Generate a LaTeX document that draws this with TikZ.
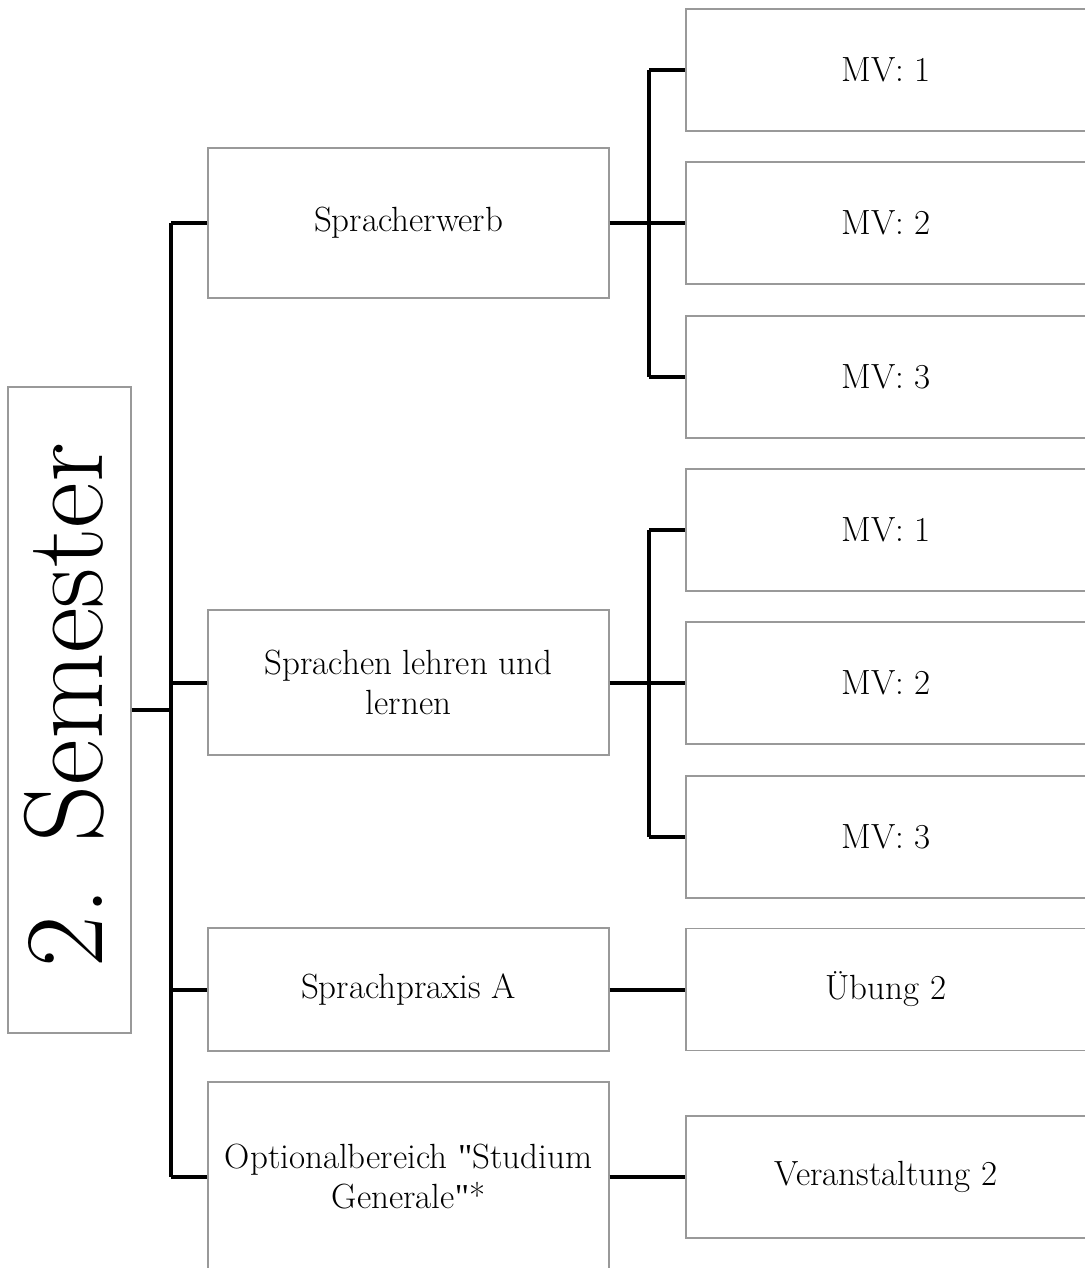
\documentclass[tikz,border=0pt]{standalone}
\usepackage{fontspec}
\newfontfamily\qfont{Liberation Serif}
\begin{document}
\begin{tikzpicture}[x=1pt,y=-1pt,
  box/.style={draw=black!40, line width=1.3pt, fill=white, inner sep=0pt, align=center,
    font=\fontsize{35}{40}\selectfont},
  lvlone/.style={box, minimum width=401pt, minimum height=#1},
  lvltwo/.style={box, minimum width=400pt, minimum height=122pt},
  conn/.style={line width=4pt, black}]
\useasboundingbox (0,0) rectangle (1084,1268);
% root
\node[draw=black!40, line width=1.3pt, fill=white, minimum width=123pt, minimum height=646pt, inner sep=0pt] (sem) at (69.5,710) {};
\node[rotate=90, font=\fontsize{112}{116}\selectfont, inner sep=0pt] (semtext) at (64,705) {2. Semester};
% level one
\node[lvlone=150pt] (sp) at (408.5,223) {Spracherwerb};
\node[lvlone=145pt] (sl) at (408.5,682.5) {Sprachen lehren und\\lernen};
\node[lvlone=123pt] (pa) at (408.5,989.5) {Sprachpraxis A};
\node[lvlone=190pt] (opt) at (408.5,1177) {Optionalbereich {\qfont"}Studium\\Generale{\qfont"}*};
% level two
\node[lvltwo] (a1) at (886,70) {MV: 1};
\node[lvltwo] (a2) at (886,223) {MV: 2};
\node[lvltwo] (a3) at (886,377) {MV: 3};
\node[lvltwo] (b1) at (886,530) {MV: 1};
\node[lvltwo] (b2) at (886,683) {MV: 2};
\node[lvltwo] (b3) at (886,837) {MV: 3};
\node[lvltwo] (c1) at (886,989.5) {Übung 2};
\node[lvltwo] (d1) at (886,1177) {Veranstaltung 2};
% connectors
\coordinate (t) at (171,711);
\coordinate (br) at (649,0);
\draw[conn] (sem.east) -- (sem.east -| t);
\draw[conn] (sp.west -| t) -- (opt.west -| t);
\foreach \n in {sp,sl,pa,opt} \draw[conn] (\n.west -| t) -- (\n.west);
\draw[conn] (sp.east) -- (sp.east -| br);
\draw[conn] (a1.west -| br) -- (a3.west -| br);
\foreach \n in {a1,a2,a3} \draw[conn] (\n.west -| br) -- (\n.west);
\draw[conn] (sl.east) -- (sl.east -| br);
\draw[conn] (b1.west -| br) -- (b3.west -| br);
\foreach \n in {b1,b2,b3} \draw[conn] (\n.west -| br) -- (\n.west);
\draw[conn] (pa.east) -- (c1.west);
\draw[conn] (opt.east) -- (opt.east -| d1.west);
\end{tikzpicture}
\end{document}
